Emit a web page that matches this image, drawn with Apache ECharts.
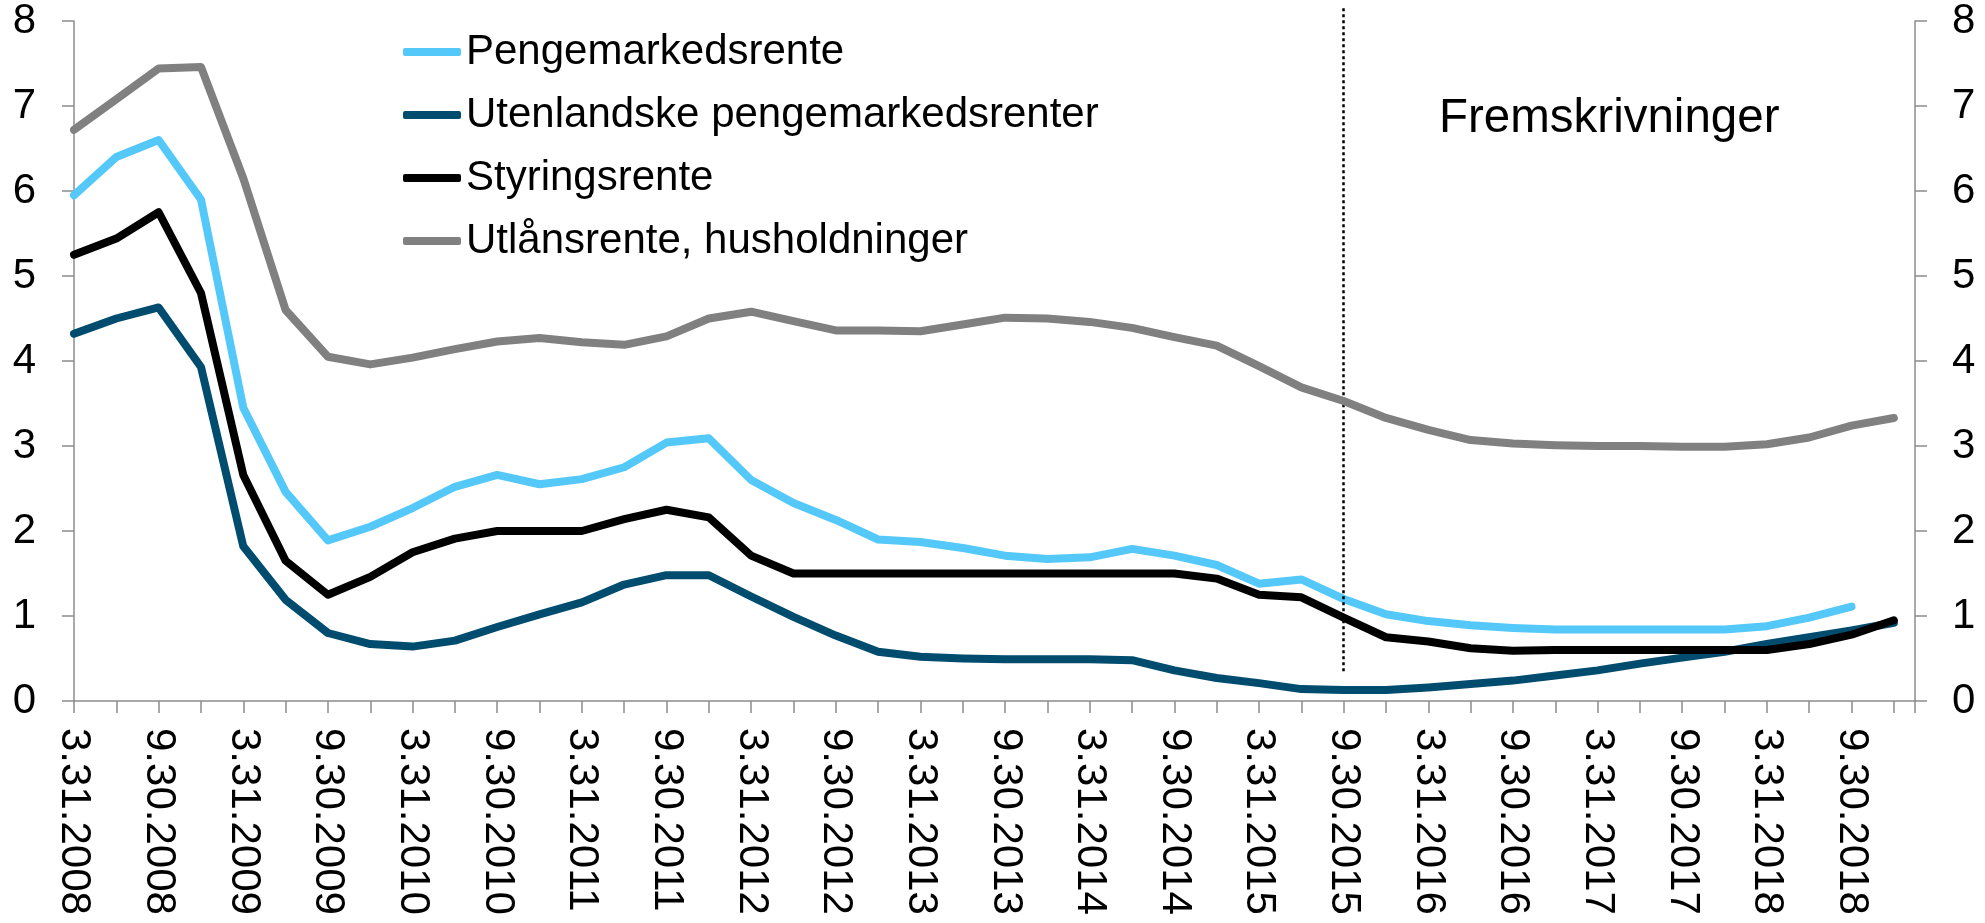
<!DOCTYPE html>
<html><head><meta charset="utf-8">
<script src="https://cdn.jsdelivr.net/npm/echarts@6/dist/echarts.min.js"></script>
<style>html,body{margin:0;padding:0;background:#fff}#c{width:1985px;height:923px}</style>
</head><body><div id="c"></div><script>
const categories = ['3.31.2008','6.30.2008','9.30.2008','12.31.2008','3.31.2009','6.30.2009','9.30.2009','12.31.2009',
  '3.31.2010','6.30.2010','9.30.2010','12.31.2010','3.31.2011','6.30.2011','9.30.2011','12.31.2011',
  '3.31.2012','6.30.2012','9.30.2012','12.31.2012','3.31.2013','6.30.2013','9.30.2013','12.31.2013',
  '3.31.2014','6.30.2014','9.30.2014','12.31.2014','3.31.2015','6.30.2015','9.30.2015','12.31.2015',
  '3.31.2016','6.30.2016','9.30.2016','12.31.2016','3.31.2017','6.30.2017','9.30.2017','12.31.2017',
  '3.31.2018','6.30.2018','9.30.2018','12.31.2018'];
const seriesNames = ['Pengemarkedsrente','Utenlandske pengemarkedsrenter','Styringsrente','Utlånsrente, husholdninger'];
const pengemarkedsrente = [5.95,6.40,6.60,5.90,3.45,2.46,1.89,2.05,2.27,2.52,2.66,2.55,2.61,2.75,3.04,3.09,2.60,2.33,2.13,1.90,1.87,1.80,1.71,1.67,1.69,1.79,1.71,1.60,1.38,1.43,1.20,1.02,0.94,0.89,0.86,0.84,0.84,0.84,0.84,0.84,0.88,0.98,1.11,null];
const utenlandske = [4.32,4.50,4.63,3.93,1.82,1.19,0.80,0.67,0.64,0.71,0.87,1.02,1.16,1.37,1.48,1.48,1.23,0.99,0.77,0.58,0.52,0.50,0.49,0.49,0.49,0.48,0.36,0.27,0.21,0.14,0.13,0.13,0.16,0.20,0.24,0.30,0.36,0.44,0.51,0.58,0.67,0.75,0.83,0.92];
const styringsrente = [5.25,5.44,5.75,4.80,2.66,1.65,1.25,1.46,1.75,1.91,2.00,2.00,2.00,2.14,2.25,2.16,1.71,1.50,1.50,1.50,1.50,1.50,1.50,1.50,1.50,1.50,1.50,1.44,1.25,1.22,0.98,0.75,0.70,0.62,0.59,0.60,0.60,0.60,0.60,0.60,0.60,0.67,0.78,0.95];
const utlansrente = [6.72,7.08,7.44,7.46,6.15,4.60,4.05,3.96,4.04,4.14,4.23,4.27,4.22,4.19,4.29,4.50,4.58,4.47,4.36,4.36,4.35,4.43,4.51,4.50,4.46,4.39,4.28,4.18,3.94,3.69,3.53,3.33,3.19,3.07,3.03,3.01,3.00,3.00,2.99,2.99,3.02,3.10,3.24,3.33];
const colors = ['#55C8FA','#004C6E','#000000','#808080'];
const projectionStartIndex = 30;   // 9.30.2015
const projectionLabel = 'Fremskrivninger';
const dividerRange = [0.35, 8.16];

const FONT = "'Liberation Sans', Arial, sans-serif";
const toPairs = arr => arr.map((v, i) => [i, v]);
const seriesData = [pengemarkedsrente, utenlandske, styringsrente, utlansrente];

const axisLineStyle = { color: '#8C8C8C', width: 1.5 };
const chart = echarts.init(document.getElementById('c'), null, { renderer: 'canvas' });

const option = {
  animation: false,
  backgroundColor: '#ffffff',
  title: {
    text: projectionLabel, left: 1439, top: 95, padding: 0,
    textStyle: { fontFamily: FONT, fontSize: 47.5, fontWeight: 'normal', color: '#000' }
  },
  legend: {
    data: seriesNames, orient: 'vertical', left: 403, top: 31, padding: 0,
    itemWidth: 58, itemHeight: 8, itemGap: 21, icon: 'roundRect',
    textStyle: { fontFamily: FONT, fontSize: 42, color: '#000', lineHeight: 42 }
  },
  grid: [
    { left: 74, right: 70, top: 21, bottom: 222, containLabel: false },
    { left: 74, right: 70, top: 21 - (dividerRange[1] - 8) * ((923 - 222 - 21) / 8), bottom: 222, containLabel: false }
  ],
  xAxis: [{
    type: 'value', gridIndex: 0, min: 0, max: categories.length - 0.5, interval: 1,
    axisLine: { show: true, onZero: false, lineStyle: axisLineStyle },
    axisTick: { show: true, length: 12, inside: false, lineStyle: axisLineStyle },
    splitLine: { show: false },
    axisLabel: {
      rotate: -90, margin: 27, fontFamily: FONT, fontSize: 42, color: '#000',
      showMinLabel: true, showMaxLabel: true, hideOverlap: false,
      formatter: v => (Number.isInteger(v) && v % 2 === 0 && categories[v]) ? categories[v] : ''
    }
  }, {
    type: 'value', gridIndex: 1, min: 0, max: categories.length - 0.5, show: false
  }],
  yAxis: [{
    type: 'value', gridIndex: 0, position: 'left', min: 0, max: 8, interval: 1,
    axisLine: { show: true, lineStyle: axisLineStyle },
    axisTick: { show: true, length: 12, lineStyle: axisLineStyle },
    splitLine: { show: false },
    axisLabel: { margin: 38, fontFamily: FONT, fontSize: 42, color: '#000' }
  }, {
    type: 'value', gridIndex: 0, position: 'right', min: 0, max: 8, interval: 1,
    axisLine: { show: true, lineStyle: axisLineStyle },
    axisTick: { show: true, length: 12, lineStyle: axisLineStyle },
    splitLine: { show: false },
    axisLabel: { margin: 37, fontFamily: FONT, fontSize: 42, color: '#000' }
  }, {
    type: 'value', gridIndex: 1, min: 0, max: dividerRange[1], show: false
  }],
  series: seriesNames.map((name, k) => ({
    name, type: 'line', xAxisIndex: 0, yAxisIndex: 0,
    data: toPairs(seriesData[k]), showSymbol: false, symbol: 'none',
    connectNulls: false, color: colors[k],
    lineStyle: { width: 8, color: colors[k], cap: 'round', join: 'round' },
    z: 2 + k
  })).concat([{
    name: 'divider', type: 'line', xAxisIndex: 1, yAxisIndex: 2, data: [], symbol: 'none',
    markLine: {
      silent: true, symbol: ['none', 'none'], label: { show: false },
      lineStyle: { color: '#000', type: [3, 3], width: 2.5 },
      data: [[{ coord: [projectionStartIndex, dividerRange[0]] }, { coord: [projectionStartIndex, dividerRange[1]] }]]
    }
  }])
};
chart.setOption(option);
</script></body></html>
